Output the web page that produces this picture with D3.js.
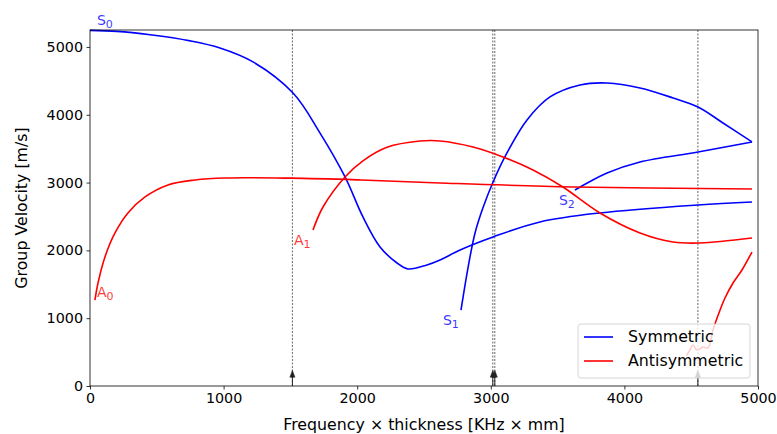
<!DOCTYPE html>
<html><head><meta charset="utf-8">
<script src="https://cdn.jsdelivr.net/npm/d3@7"></script>
<style>body{margin:0;background:#fff}svg{display:block}text{font-family:"DejaVu Sans",sans-serif}</style>
</head><body><svg id="c" width="777" height="434"></svg>
<script>
const xTicks=[0,1000,2000,3000,4000,5000];
const yTicks=[0,1000,2000,3000,4000,5000];
const S0=[[0,5245],[200,5230],[450,5180],[750,5090],[973,4985],[1220,4780],[1520,4320],[1722,3730],[1909,3083],[2043,2493],[2171,2050],[2298,1814],[2380,1726],[2522,1785],[2620,1858],[2770,2006],[3017,2198],[3368,2419],[3817,2552],[4551,2670],[4955,2714]];
const S1=[[2777,1120],[2830,1750],[2882,2257],[2940,2620],[3017,3009],[3121,3437],[3271,3923],[3443,4263],[3668,4440],[3870,4469],[4117,4395],[4364,4248],[4551,4115],[4738,3879],[4955,3599]];
const S2=[[3630,2891],[3870,3142],[4117,3304],[4551,3451],[4955,3599]];
const A0=[[37,1268],[60,1519],[112,1903],[187,2257],[284,2552],[412,2788],[584,2965],[786,3038],[1010,3068],[1500,3065],[2000,3040],[2620,2994],[3615,2935],[4955,2906]];
const A1=[[1669,2300],[1744,2640],[1909,3083],[2043,3320],[2223,3520],[2470,3612],[2620,3614],[2867,3525],[3091,3378],[3316,3186],[3540,2935],[3817,2552],[4117,2257],[4364,2124],[4566,2109],[4955,2183]];
const A2=[[4465,450],[4491,531],[4513,605],[4543,531],[4588,575],[4626,560],[4663,826],[4716,1121],[4753,1298],[4813,1519],[4880,1711],[4955,1976]];
const cutoffs=[1515,3015,3030,4550];
const modeLabels=[{n:"S",s:"0",x:52,y:5325,c:"blue"},{n:"A",s:"0",x:52,y:1313,c:"red"},{n:"A",s:"1",x:1527,y:2080,c:"red"},{n:"S",s:"1",x:2642,y:900,c:"blue"},{n:"S",s:"2",x:3510,y:2670,c:"blue"}];
const legendItems=[{t:"Symmetric",c:"blue"},{t:"Antisymmetric",c:"red"}];

const svg=d3.select("#c");
const L=90,R=758,T=30,B=386;
const x=d3.scaleLinear().domain([0,5000]).range([L,R]);
const y=d3.scaleLinear().domain([0,5250]).range([B,T]);
const tfs=14.3, lfs=15.8;

svg.selectAll(".cut").data(cutoffs).enter().append("line")
 .attr("x1",d=>x(d)).attr("x2",d=>x(d)).attr("y1",T).attr("y2",B)
 .attr("stroke","#000").attr("stroke-width",0.6).attr("stroke-dasharray","2,1.5");

const line=d3.line().x(d=>x(d[0])).y(d=>y(d[1])).curve(d3.curveCatmullRom.alpha(0.5));
[[S0,"blue"],[S1,"blue"],[S2,"blue"],[A0,"red"],[A1,"red"],[A2,"red"]].forEach(([d,c])=>{
 svg.append("path").attr("d",line(d)).attr("fill","none").attr("stroke",c).attr("stroke-width",1.6);
});

cutoffs.forEach(v=>{
 const g=svg.append("g");
 g.append("line").attr("x1",x(v)).attr("x2",x(v)).attr("y1",B).attr("y2",y(170)).attr("stroke","#222").attr("stroke-width",1);
 g.append("path").attr("d",`M${x(v)-2.5},${y(130)}L${x(v)},${y(230)}L${x(v)+2.5},${y(130)}Z`).attr("fill","#222").attr("stroke","#222").attr("stroke-width",0.6);
});

modeLabels.forEach(m=>{
 const t=svg.append("text").attr("x",x(m.x)).attr("y",y(m.y)).attr("fill",m.c).attr("fill-opacity",0.8).attr("font-size",14);
 t.append("tspan").text(m.n);
 t.append("tspan").attr("dy",3.5).attr("font-size",11).text(m.s);
});

const xa=svg.append("g").attr("transform",`translate(0,${B})`).call(d3.axisBottom(x).tickValues(xTicks).tickSize(3.5).tickPadding(3.5).tickFormat(d3.format("d")));
const ya=svg.append("g").attr("transform",`translate(${L},0)`).call(d3.axisLeft(y).tickValues(yTicks).tickSize(3.5).tickPadding(3.5).tickFormat(d3.format("d")));
[xa,ya].forEach(a=>{a.select(".domain").remove();a.selectAll("text").attr("font-size",tfs).attr("font-family","DejaVu Sans").attr("fill","#000");a.selectAll("line").attr("stroke","#000").attr("stroke-width",0.8);});
svg.append("rect").attr("x",L).attr("y",T).attr("width",R-L).attr("height",B-T).attr("fill","none").attr("stroke","#000").attr("stroke-width",0.8);

svg.append("text").attr("x",(L+R)/2).attr("y",430).attr("text-anchor","middle").attr("font-size",lfs).text("Frequency × thickness [KHz × mm]");
svg.append("text").attr("transform",`translate(27,${(T+B)/2}) rotate(-90)`).attr("text-anchor","middle").attr("font-size",lfs).text("Group Velocity [m/s]");

const lg=svg.append("g");
lg.append("rect").attr("x",578).attr("y",324).attr("width",172).attr("height",54).attr("rx",3).attr("fill","#fff").attr("fill-opacity",0.8).attr("stroke","#ccc").attr("stroke-width",0.8);
legendItems.forEach((it,i)=>{
 const yy=337+i*24;
 lg.append("line").attr("x1",584).attr("x2",613).attr("y1",yy).attr("y2",yy).attr("stroke",it.c).attr("stroke-width",1.6);
 lg.append("text").attr("x",628).attr("y",yy+5).attr("font-size",lfs).text(it.t);
});
</script></body></html>
